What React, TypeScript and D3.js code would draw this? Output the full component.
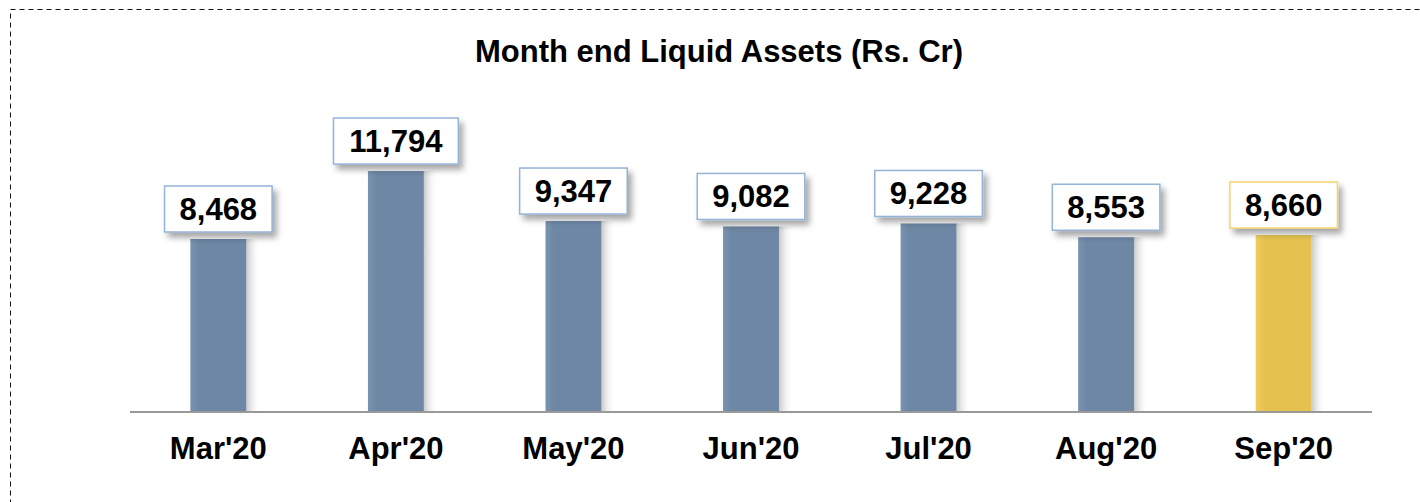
import React from "react";
import * as d3 from "d3";

const categories = ["Mar'20", "Apr'20", "May'20", "Jun'20", "Jul'20", "Aug'20", "Sep'20"];
const values = [8468, 11794, 9347, 9082, 9228, 8553, 8660];
const highlight = [false, false, false, false, false, false, true];
const title = "Month end Liquid Assets (Rs. Cr)";

const W = 1420;
const H = 502;

function textWidth(s: string, fs: number) {
  const w: Record<string, number> = { ",": 0.278 };
  let t = 0;
  for (const c of s) t += (w[c] ?? 0.556) * fs;
  return t;
}

export default function App() {
  const x = d3.scaleBand<string>().domain(categories).range([130, 1372]).paddingInner(0.685).paddingOuter(0.34);
  const y = d3.scaleLinear().domain([0, 10000]).range([412, 412 - 204.3]);
  const fmt = d3.format(",");
  const fs = 31;
  return (
    <svg width={W} height={H} style={{ position: "absolute", left: 0, top: 0, background: "#fff" }} fontFamily="Arial, 'Liberation Sans', sans-serif">
      <defs>
        <linearGradient id="shadowGrad" x1="0" x2="1" y1="0" y2="0">
          <stop offset="0" stopColor="#bbb" stopOpacity="0.8" />
          <stop offset="1" stopColor="#fff" stopOpacity="0" />
        </linearGradient>
        <linearGradient id="blueGrad" x1="0" x2="1" y1="0" y2="0">
          <stop offset="0" stopColor="#7a93b0" />
          <stop offset="0.15" stopColor="#6e87a5" />
          <stop offset="1" stopColor="#6e87a5" />
        </linearGradient>
        <linearGradient id="goldGrad" x1="0" x2="1" y1="0" y2="0">
          <stop offset="0" stopColor="#f0cd5a" />
          <stop offset="0.15" stopColor="#e5c24f" />
          <stop offset="1" stopColor="#e5c24f" />
        </linearGradient>
        <filter id="boxShadow" x="-20%" y="-20%" width="150%" height="160%">
          <feGaussianBlur in="SourceAlpha" stdDeviation="3" />
          <feOffset dx="4" dy="5" result="ob" />
          <feComponentTransfer>
            <feFuncA type="linear" slope="0.35" />
          </feComponentTransfer>
          <feMerge>
            <feMergeNode />
            <feMergeNode in="SourceGraphic" />
          </feMerge>
        </filter>
      </defs>
      <rect x={10.5} y={9.5} width={W + 20} height={H + 20} fill="none" stroke="#111" strokeWidth={1} strokeDasharray="5,4" />
      <text x={719} y={62} textAnchor="middle" fontSize={31} fontWeight="bold" fill="#000">{title}</text>
      {categories.map((c, i) => {
        const bx = x(c)!;
        const bw = x.bandwidth();
        const top = y(values[i]);
        return (
          <g key={c}>
            <rect x={bx + bw} y={top} width={14} height={412 - top} fill="url(#shadowGrad)" />
            <rect x={bx} y={top} width={bw} height={412 - top} fill={highlight[i] ? "url(#goldGrad)" : "url(#blueGrad)"} />
          </g>
        );
      })}
      <line x1={130} x2={1372} y1={412} y2={412} stroke="#999" strokeWidth={2} />
      {categories.map((c, i) => {
        const cx = x(c)! + x.bandwidth() / 2;
        const top = y(values[i]);
        const label = fmt(values[i]);
        const tw = textWidth(label, fs);
        const bw = tw + 30;
        const bh = 46;
        const by = top - 7 - bh;
        return (
          <g key={"l" + c}>
            <rect x={cx - bw / 2} y={by} width={bw} height={bh} fill="#fff" stroke={highlight[i] ? "#f5d36b" : "#95b3d7"} strokeWidth={1.5} filter="url(#boxShadow)" />
            <text x={cx} y={by + bh / 2 + 11} textAnchor="middle" fontSize={fs} fontWeight="bold" fill="#000">{label}</text>
            <text x={cx} y={459} textAnchor="middle" fontSize={31} fontWeight="bold" fill="#000">{c}</text>
          </g>
        );
      })}
    </svg>
  );
}
